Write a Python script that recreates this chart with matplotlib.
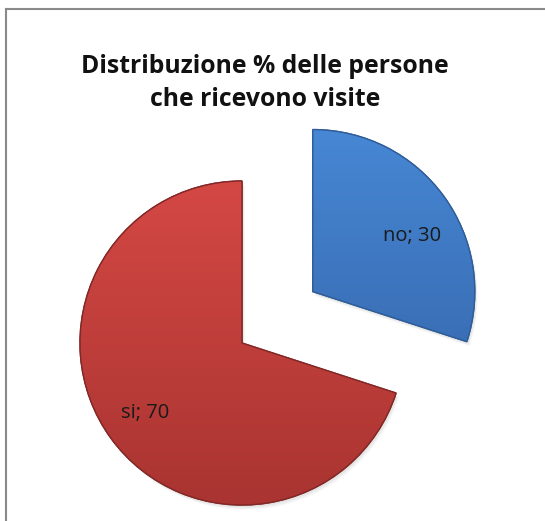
import matplotlib
matplotlib.use('Agg')
import matplotlib.pyplot as plt
import numpy as np
from matplotlib.patches import Wedge
from matplotlib.lines import Line2D
from matplotlib.colors import LinearSegmentedColormap

# risposte e percentuali
categories = ['no', 'si']
values = [30, 70]
explode_frac = [0.54, 0]
title = 'Distribuzione % delle persone\nche ricevono visite'

plt.rcParams['font.family'] = ['Open Sans', 'DejaVu Sans']

W, H = 545, 521
fig = plt.figure(figsize=(W / 100, H / 100), dpi=100)
ax = fig.add_axes([0, 0, 1, 1])

# gradient top -> bottom for each slice
grads = [('#4787d4', '#3a6fb6'), ('#d44844', '#a93431')]
edges = ['#2f5d98', '#822826']
# small manual nudges for the data labels (pixels)
label_nudge = [(2, -15), (0, 0)]

cx, cy, r = 242, 178, 162
# pie's explode is an absolute offset in data units, so scale it by the radius
wedges, _ = ax.pie(values, startangle=90, counterclock=False,
                   explode=[f * r for f in explode_frac],
                   center=(cx, cy), radius=r, colors=[g[0] for g in grads])

for w, (c_top, c_bot), ec in zip(wedges, grads, edges):
    # soft shadow under the slice
    for k in range(1, 7):
        sh = Wedge((w.center[0] + 0.5 * k, w.center[1] - 0.8 * k), w.r, w.theta1, w.theta2,
                   facecolor='black', alpha=0.025, linewidth=0, zorder=0)
        ax.add_patch(sh)
    w.set_zorder(1)
    w.set_edgecolor(ec)
    w.set_linewidth(1.0)
    bb = w.get_path().get_extents(w.get_patch_transform())
    cmap = LinearSegmentedColormap.from_list('g', [c_bot, c_top])
    grad = np.linspace(0, 1, 256).reshape(-1, 1)
    im = ax.imshow(grad, cmap=cmap, origin='lower', aspect='auto',
                   extent=[bb.x0, bb.x1, bb.y0, bb.y1], zorder=1.5, interpolation='bicubic')
    im.set_clip_path(w)
    # outline on top of gradient
    ol = Wedge(w.center, w.r, w.theta1, w.theta2, facecolor='none', edgecolor=ec,
               linewidth=1.0, zorder=2)
    ax.add_patch(ol)

# data labels inside the slices
for w, cat, val, (nx, ny) in zip(wedges, categories, values, label_nudge):
    ang = np.deg2rad((w.theta1 + w.theta2) / 2)
    d = 0.74 * w.r
    ax.text(w.center[0] + d * np.cos(ang) + nx, w.center[1] + d * np.sin(ang) + ny,
            f'{cat}; {val}', ha='center', va='center', fontsize=14.5,
            color='#1a1a1a', zorder=3)

ax.set_xlim(0, W)
ax.set_ylim(0, H)
ax.set_aspect('equal')
ax.axis('off')

# chart area border (top and left edges visible)
fig.add_artist(Line2D([5.5 / W, 5.5 / W], [0, 1 - 8.5 / H], color='#8a8a8a', lw=1.5,
                      transform=fig.transFigure))
fig.add_artist(Line2D([5.5 / W, 1], [1 - 8.5 / H, 1 - 8.5 / H], color='#8a8a8a', lw=1.5,
                      transform=fig.transFigure))

fig.text(265 / W, 1 - 83 / H, title, ha='center', va='center', fontsize=17.8,
         fontweight='bold', linespacing=1.42, color='#111111')

fig.savefig('out.png', dpi=100)
